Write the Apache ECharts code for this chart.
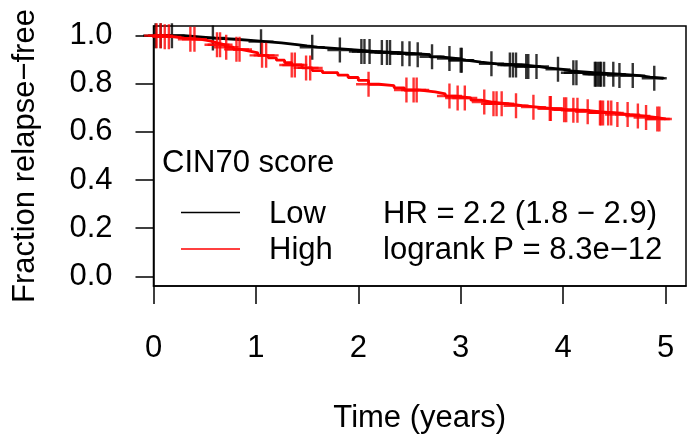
<!DOCTYPE html>
<html>
<head>
<meta charset="utf-8">
<script src="https://cdn.jsdelivr.net/npm/echarts@6/dist/echarts.min.js"></script>
<style>
  html, body { margin: 0; padding: 0; background: #fff; }
  #chart { width: 690px; height: 439px; }
</style>
</head>
<body>
<div id="chart"></div>
<script>
// ---- data ----
const xTicks = [0, 1, 2, 3, 4, 5];
const yTicks = [0, 0.2, 0.4, 0.6, 0.8, 1.0];

// Low CIN70 score: step times and survival after each step
const lowTimes = [0, 0.3, 0.45, 0.6, 0.8, 0.95, 1.1, 1.25, 1.4, 1.5, 1.6, 1.8, 2.0, 2.15, 2.35, 2.55, 2.7, 2.8, 2.95, 3.05, 3.2, 3.35, 3.6, 3.75, 3.85, 4.0, 4.1, 4.3, 4.55, 4.75, 4.85, 4.98];
const lowSurv  = [1.0, 0.995, 0.99, 0.985, 0.98, 0.975, 0.97, 0.963, 0.957, 0.952, 0.946, 0.94, 0.934, 0.93, 0.925, 0.921, 0.912, 0.905, 0.898, 0.89, 0.883, 0.878, 0.872, 0.866, 0.86, 0.852, 0.846, 0.84, 0.834, 0.828, 0.823, 0.82];
const lowCensor = [0.02, 0.07, 0.18, 0.58, 1.05, 1.55, 1.82, 2.03, 2.06, 2.11, 2.23, 2.28, 2.31, 2.43, 2.50, 2.58, 2.72, 2.89, 3.00, 3.01, 3.30, 3.48, 3.51, 3.54, 3.64, 3.66, 3.74, 3.95, 4.10, 4.13, 4.31, 4.32, 4.34, 4.36, 4.37, 4.40, 4.49, 4.55, 4.68, 4.89];

// High CIN70 score
const highTimes = [0, 0.1, 0.2, 0.3, 0.45, 0.55, 0.62, 0.7, 0.78, 0.85, 0.95, 1.02, 1.12, 1.2, 1.28, 1.35, 1.45, 1.55, 1.65, 1.8, 1.9, 2.0, 2.1, 2.2, 2.35, 2.45, 2.6, 2.75, 2.85, 2.95, 3.1, 3.2, 3.3, 3.45, 3.6, 3.75, 3.9, 4.05, 4.2, 4.35, 4.5, 4.65, 4.8, 4.9, 5.0];
const highSurv  = [1.0, 0.995, 0.99, 0.985, 0.978, 0.97, 0.962, 0.952, 0.943, 0.935, 0.928, 0.918, 0.908, 0.898, 0.888, 0.878, 0.866, 0.855, 0.846, 0.836, 0.826, 0.814, 0.798, 0.792, 0.783, 0.774, 0.766, 0.758, 0.749, 0.741, 0.732, 0.724, 0.717, 0.709, 0.703, 0.697, 0.692, 0.69, 0.684, 0.679, 0.672, 0.666, 0.66, 0.654, 0.65];
const highCensor = [0.03, 0.07, 0.11, 0.15, 0.36, 0.40, 0.62, 0.65, 0.71, 0.81, 0.84, 1.06, 1.10, 1.35, 1.38, 1.49, 1.53, 2.10, 2.47, 2.54, 2.57, 2.89, 2.97, 3.04, 3.23, 3.32, 3.35, 3.40, 3.54, 3.71, 3.87, 3.88, 4.01, 4.03, 4.10, 4.14, 4.24, 4.36, 4.37, 4.39, 4.44, 4.47, 4.53, 4.63, 4.73, 4.81, 4.92, 4.94];

const legendTitle = 'CIN70 score';
const groupNames = ['Low', 'High'];
const statTexts = ['HR = 2.2 (1.8 \u2212 2.9)', 'logrank P = 8.3e\u221212'];
const xName = 'Time (years)';
const yName = 'Fraction relapse\u2212free';

// ---- helpers ----
function survAt(times, surv, t) {
  let s = surv[0];
  for (let i = 0; i < times.length; i++) { if (times[i] <= t) s = surv[i]; else break; }
  return s;
}
const zip = (a, b) => a.map((v, i) => [v, b[i]]);

const FONT = '"Liberation Sans", Arial, Helvetica, sans-serif';
const FS = 31;
const crossPath = 'path://M10,0 L10,20 M0,10 L20,10';
const txt = (x, y, text) => ({ type: 'text', x: x, y: y,
  style: { text: text, font: FS + 'px ' + FONT, fill: '#000', align: 'left', verticalAlign: 'middle' } });

const chart = echarts.init(document.getElementById('chart'), null, { renderer: 'canvas' });

const option = {
  animation: false,
  backgroundColor: '#fff',
  textStyle: { fontFamily: FONT, color: '#000' },
  grid: {
    left: 153.5, right: 4, top: 26, bottom: 151,
    show: true, borderColor: '#000', borderWidth: 1.5, backgroundColor: 'transparent'
  },
  xAxis: {
    type: 'value', min: 0, max: 5.2,
    name: xName, nameLocation: 'middle', nameGap: 117,
    nameTextStyle: { fontSize: FS, fontFamily: FONT, color: '#000' },
    axisLine: { show: true, onZero: false, lineStyle: { color: '#000', width: 1.5 } },
    axisTick: { show: true, inside: false, length: 18, customValues: xTicks, lineStyle: { color: '#000', width: 1.5 } },
    axisLabel: { customValues: xTicks, fontSize: FS, fontFamily: FONT, color: '#000', margin: 47 },
    splitLine: { show: false }
  },
  yAxis: {
    type: 'value', min: -0.04, max: 1.04,
    name: yName, nameLocation: 'middle', nameGap: 113, nameRotate: 90,
    nameTextStyle: { fontSize: FS, fontFamily: FONT, color: '#000' },
    axisLine: { show: true, onZero: false, lineStyle: { color: '#000', width: 1.5 } },
    axisTick: { show: true, inside: false, length: 18, customValues: yTicks, lineStyle: { color: '#000', width: 1.5 } },
    axisLabel: { customValues: yTicks, fontSize: FS, fontFamily: FONT, color: '#000', margin: 41,
      formatter: v => Number(v).toFixed(1) },
    splitLine: { show: false }
  },
  series: [
    { name: 'Low', type: 'line', step: 'end', showSymbol: false, data: zip(lowTimes, lowSurv),
      lineStyle: { color: '#000', width: 2.8 }, itemStyle: { color: '#000' }, z: 2 },
    { name: 'Low censored', type: 'scatter', symbol: crossPath, symbolSize: 25,
      data: lowCensor.map(t => [t, survAt(lowTimes, lowSurv, t)]),
      itemStyle: { color: 'rgba(0,0,0,0)', borderColor: '#000', borderWidth: 2.4 }, z: 3 },
    { name: 'High', type: 'line', step: 'end', showSymbol: false, data: zip(highTimes, highSurv),
      lineStyle: { color: '#ff0000', width: 2.8 }, itemStyle: { color: '#ff0000' }, z: 4 },
    { name: 'High censored', type: 'scatter', symbol: crossPath, symbolSize: 25,
      data: highCensor.map(t => [t, survAt(highTimes, highSurv, t)]),
      itemStyle: { color: 'rgba(255,0,0,0)', borderColor: '#ff0000', borderWidth: 2.4 }, z: 5 }
  ],
  graphic: [
    txt(162, 163, legendTitle),
    { type: 'line', shape: { x1: 181, y1: 212.5, x2: 240, y2: 212.5 }, style: { stroke: '#000', lineWidth: 1.5 } },
    { type: 'line', shape: { x1: 181, y1: 249, x2: 240, y2: 249 }, style: { stroke: '#ff0000', lineWidth: 1.5 } },
    txt(269, 214, groupNames[0]),
    txt(269, 250, groupNames[1]),
    txt(383, 214, statTexts[0]),
    txt(383, 250, statTexts[1])
  ]
};
chart.setOption(option);
</script>
</body>
</html>
